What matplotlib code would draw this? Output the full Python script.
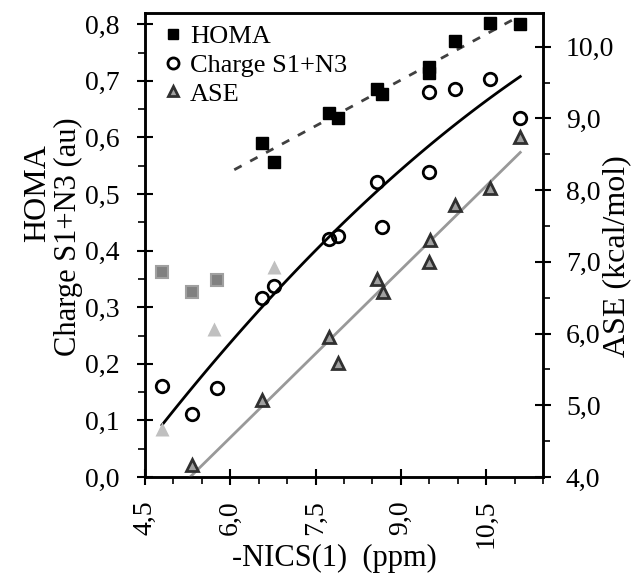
import numpy as np
import matplotlib
matplotlib.use("Agg")
import matplotlib.pyplot as plt
from matplotlib.ticker import FuncFormatter, MultipleLocator

plt.rcParams['font.family'] = ['Liberation Serif', 'DejaVu Serif']

# -NICS(1) values (ppm)
nics = [4.80, 5.33, 5.76, 6.56, 6.76, 7.74, 7.89, 8.58, 8.67, 9.49, 9.49, 9.95, 10.56, 11.10]
# HOMA (first three are outliers, drawn gray)
homa = [0.363, 0.327, 0.348, 0.591, 0.556, 0.643, 0.634, 0.685, 0.676, 0.725, 0.714, 0.771, 0.802, 0.800]
homa_out = [True, True, True] + [False] * 11
# Charge S1+N3 (au)
charge = [0.161, 0.111, 0.157, 0.316, 0.337, 0.420, 0.426, 0.522, 0.442, 0.681, 0.539, 0.685, 0.703, 0.634]
# ASE (kcal/mol)
ase_x = [4.80, 5.33, 5.72, 6.56, 6.76, 7.74, 7.89, 8.58, 8.69, 9.51, 9.49, 9.96, 10.56, 11.10]
ase = [4.665, 4.167, 6.07, 5.074, 6.93, 5.957, 5.586, 6.757, 6.576, 7.305, 6.994, 7.79, 8.027, 8.746]
ase_out = [True, False, True, False, True] + [False] * 9

nics = np.array(nics); homa = np.array(homa); charge = np.array(charge)
ase_x = np.array(ase_x); ase = np.array(ase)
homa_out = np.array(homa_out); ase_out = np.array(ase_out)

fig = plt.figure(figsize=(6.34, 5.77), dpi=100)
ax = fig.add_axes([0.2287, 0.1733, 0.6278, 0.8042])
ax2 = ax.twinx()

ax.set_xlim(4.5, 11.5)
ax.set_ylim(0, 0.82)

# trend lines
hm = ~homa_out
p = np.polyfit(nics[hm], homa[hm], 1)
xx = np.linspace(6.07, nics.max(), 50)
ax.plot(xx, np.polyval(p, xx), color='#404040', lw=2, ls=(0, (3, 3.5)), zorder=2)

pc = np.polyfit(nics, charge, 2)
xx = np.linspace(nics.min(), nics.max(), 100)
ax.plot(xx, np.polyval(pc, xx), color='black', lw=2, zorder=2)

am = ~ase_out
pa = np.polyfit(ase_x[am], ase[am], 1)
xx = np.linspace(5.0, ase_x.max(), 50)
ax2.plot(xx, np.polyval(pa, xx), color='#999999', lw=2, zorder=2)

# markers
ax.plot(nics[hm], homa[hm], 's', ms=8, color='black', zorder=3)
ax.plot(nics[homa_out], homa[homa_out], 's', ms=8, mfc='#808080', mec='#a0a0a0', mew=1.5, zorder=3)
ax.plot(nics, charge, 'o', ms=9, mfc='none', mec='black', mew=2, zorder=3)
ax2.plot(ase_x[am], ase[am], '^', ms=8, mfc='#a0a0a0', mec='#303030', mew=2, zorder=3)
ax2.plot(ase_x[ase_out], ase[ase_out], '^', ms=10, mfc='#c0c0c0', mec='none', zorder=3)

# legend proxies
h1, = ax.plot([], [], 's', ms=7, color='black')
h2, = ax.plot([], [], 'o', ms=8, mfc='none', mec='black', mew=2)
h3, = ax.plot([], [], '^', ms=7, mfc='#a0a0a0', mec='#303030', mew=2)
leg = ax2.legend([h1, h2, h3], ['HOMA', 'Charge S1+N3', 'ASE'], loc='upper left',
                 frameon=False, fontsize=19, handlelength=0.6, handletextpad=0.35,
                 labelspacing=0.2, borderaxespad=0.0, borderpad=0.0,
                 bbox_to_anchor=(0.05, 0.975))

comma1 = FuncFormatter(lambda v, pos: f"{v:.1f}".replace('.', ','))
ax.xaxis.set_major_locator(MultipleLocator(1.5))
ax.xaxis.set_minor_locator(MultipleLocator(0.5))
ax.yaxis.set_major_locator(MultipleLocator(0.1))
ax.yaxis.set_minor_locator(MultipleLocator(0.05))
ax2.yaxis.set_major_locator(MultipleLocator(1.0))
ax2.yaxis.set_minor_locator(MultipleLocator(0.5))
ax.xaxis.set_major_formatter(comma1)
ax.yaxis.set_major_formatter(comma1)
ax2.yaxis.set_major_formatter(comma1)
ax2.set_ylim(4.0, 4.0 + 0.82 * 7.89)

for a in (ax, ax2):
    for s in a.spines.values():
        s.set_linewidth(1.8)
    a.tick_params(which='major', direction='inout', length=11, width=1.5, labelsize=20)
    a.tick_params(which='minor', direction='out', length=5, width=1.2)
ax.tick_params(axis='x', labelrotation=90, pad=11)
ax.tick_params(axis='y', pad=13)
ax2.tick_params(axis='y', pad=11)

fig.text(0.527, 0.032, '-NICS(1)  (ppm)', fontsize=22, ha='center', va='center')
fig.text(0.06, 0.665, 'HOMA', rotation=90, fontsize=23, ha='center', va='center')
fig.text(0.108, 0.59, 'Charge S1+N3 (au)', rotation=90, fontsize=22, ha='center', va='center')
fig.text(0.972, 0.556, 'ASE (kcal/mol)', rotation=90, fontsize=23, ha='center', va='center')

fig.savefig('out.png', dpi=100)
